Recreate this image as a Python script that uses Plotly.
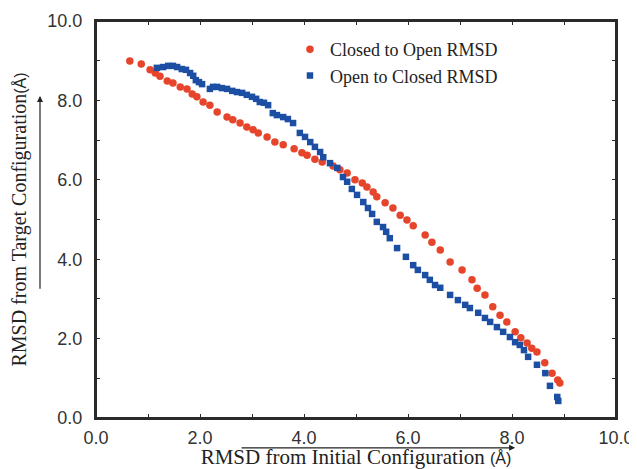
import plotly.graph_objects as go

# Closed to Open RMSD (red circles)
c2o_x = [0.65, 0.87, 1.04, 1.14, 1.23, 1.37, 1.48, 1.62, 1.75, 1.85, 1.94, 2.06, 2.19, 2.33,
         2.52, 2.63, 2.77, 2.90, 3.02, 3.12, 3.29, 3.44, 3.60, 3.81, 3.96, 4.06, 4.21, 4.35,
         4.56, 4.69, 4.83, 4.98, 5.12, 5.21, 5.33, 5.40, 5.56, 5.71, 5.85, 5.98, 6.10, 6.33,
         6.46, 6.62, 6.81, 7.04, 7.23, 7.33, 7.48, 7.63, 7.77, 7.90, 8.06, 8.17, 8.29, 8.38,
         8.48, 8.63, 8.77, 8.88, 8.92]
c2o_y = [8.99, 8.92, 8.77, 8.69, 8.61, 8.49, 8.44, 8.34, 8.29, 8.16, 8.09, 7.96, 7.88, 7.71,
         7.58, 7.51, 7.43, 7.33, 7.26, 7.18, 7.08, 6.95, 6.88, 6.78, 6.68, 6.62, 6.52, 6.45,
         6.35, 6.25, 6.17, 6.00, 5.92, 5.82, 5.69, 5.57, 5.42, 5.29, 5.11, 4.99, 4.84, 4.61,
         4.43, 4.23, 3.93, 3.73, 3.48, 3.27, 3.10, 2.80, 2.59, 2.42, 2.17, 2.02, 1.89, 1.76,
         1.66, 1.39, 1.13, 0.96, 0.88]

# Open to Closed RMSD (blue squares)
o2c_x = [1.17, 1.29, 1.39, 1.48, 1.56, 1.65, 1.73, 1.81, 1.87, 1.92, 1.98, 2.04, 2.19, 2.25,
         2.33, 2.42, 2.52, 2.62, 2.71, 2.81, 2.90, 3.00, 3.08, 3.15, 3.23, 3.31, 3.40, 3.48,
         3.60, 3.69, 3.79, 3.92, 4.02, 4.12, 4.21, 4.31, 4.37, 4.50, 4.64, 4.75, 4.83, 4.92,
         5.02, 5.14, 5.23, 5.31, 5.40, 5.52, 5.58, 5.65, 5.79, 5.96, 6.10, 6.19, 6.33, 6.42,
         6.52, 6.62, 6.81, 6.96, 7.10, 7.19, 7.35, 7.48, 7.58, 7.71, 7.83, 7.96, 8.06, 8.15,
         8.23, 8.31, 8.48, 8.64, 8.73, 8.87, 8.89]
o2c_y = [8.82, 8.84, 8.87, 8.87, 8.84, 8.79, 8.77, 8.69, 8.62, 8.51, 8.46, 8.41, 8.29, 8.34,
         8.34, 8.31, 8.29, 8.24, 8.21, 8.19, 8.14, 8.09, 8.04, 7.96, 7.94, 7.88, 7.68, 7.63,
         7.58, 7.53, 7.43, 7.18, 7.08, 6.95, 6.83, 6.70, 6.57, 6.42, 6.30, 6.07, 5.95, 5.77,
         5.62, 5.44, 5.29, 5.14, 4.94, 4.81, 4.69, 4.53, 4.28, 4.06, 3.85, 3.73, 3.60, 3.48,
         3.35, 3.28, 3.10, 2.97, 2.85, 2.77, 2.65, 2.52, 2.42, 2.29, 2.17, 2.04, 1.91, 1.84,
         1.71, 1.54, 1.34, 1.13, 0.81, 0.53, 0.43]

tick_vals = [0, 2, 4, 6, 8, 10]
tick_text = ["0.0", "2.0", "4.0", "6.0", "8.0", "10.0"]

RED = "#e6452b"
BLUE = "#1c4fa3"
AX = "#2b2b2b"
SERIF = "Liberation Serif, Times New Roman, serif"
SANS = "Liberation Sans, Arial, sans-serif"

fig = go.Figure()
fig.add_trace(go.Scatter(x=c2o_x, y=c2o_y, mode="markers", name="Closed to Open RMSD",
                         marker=dict(symbol="circle", size=7.5, color=RED, line=dict(width=0))))
fig.add_trace(go.Scatter(x=o2c_x, y=o2c_y, mode="markers", name="Open to Closed RMSD",
                         marker=dict(symbol="square", size=6.5, color=BLUE, line=dict(width=0))))

axis_common = dict(
    range=[0, 10], tickvals=tick_vals, ticktext=tick_text,
    showgrid=False, zeroline=False, showline=True, linecolor=AX, linewidth=2,
    mirror="allticks", ticks="inside", ticklen=4, tickwidth=1, tickcolor=AX,
    minor=dict(dtick=1, ticks="inside", ticklen=4, tickwidth=1, tickcolor=AX),
    tickfont=dict(family=SANS, size=18, color="#333333"),
    automargin=False,
)

fig.update_layout(
    width=629, height=461,
    margin=dict(l=88, r=21, t=13, b=51),
    paper_bgcolor="white", plot_bgcolor="white",
    showlegend=True,
    legend=dict(x=0.373, y=0.975, xanchor="left", yanchor="top",
                font=dict(family=SERIF, size=18, color="#222222"),
                bgcolor="rgba(0,0,0,0)", itemwidth=30, tracegroupgap=0),
    xaxis=dict(axis_common,
               title=dict(text='RMSD from Initial Configuration <span style="font-family:Liberation Sans;font-size:16px">(Å)</span>',
                          font=dict(family=SERIF, size=21, color="#222222"), standoff=18),
               ticklabelstandoff=2),
    yaxis=dict(axis_common,
               title=dict(text='RMSD from Target Configuration<span style="font-family:Liberation Sans;font-size:16px">(Å)</span>',
                          font=dict(family=SERIF, size=20, color="#222222"), standoff=24),
               ticklabelstandoff=8),
)

# plot frame: shapes plus plain (headless) annotation lines along the four edges
edges = [(0, 0, 1, 0), (0, 1, 1, 1), (0, 0, 0, 1), (1, 0, 1, 1)]
for x0, y0, x1, y1 in edges:
    fig.add_shape(type="line", xref="x domain", yref="y domain", x0=x0, y0=y0, x1=x1, y1=y1,
                  line=dict(color=AX, width=2), layer="above")
    fig.add_annotation(xref="x domain", yref="y domain", axref="x domain", ayref="y domain",
                       x=x1, y=y1, ax=x0, ay=y0, text="", showarrow=True,
                       arrowhead=0, arrowwidth=1.6, arrowcolor=AX)

fig.add_annotation(xref="x domain", yref="y domain", axref="x domain", ayref="y domain",
                   x=-0.1077, y=0.811, ax=-0.1077, ay=0.322, text="", showarrow=True,
                   arrowhead=2, arrowsize=1, arrowwidth=1.2, arrowcolor="#222222")
fig.add_annotation(xref="x domain", yref="y domain", axref="x domain", ayref="y domain",
                   x=0.806, y=-0.075, ax=0.277, ay=-0.075, text="", showarrow=True,
                   arrowhead=2, arrowsize=1, arrowwidth=1.2, arrowcolor="#222222")

fig.write_html("out.html")
